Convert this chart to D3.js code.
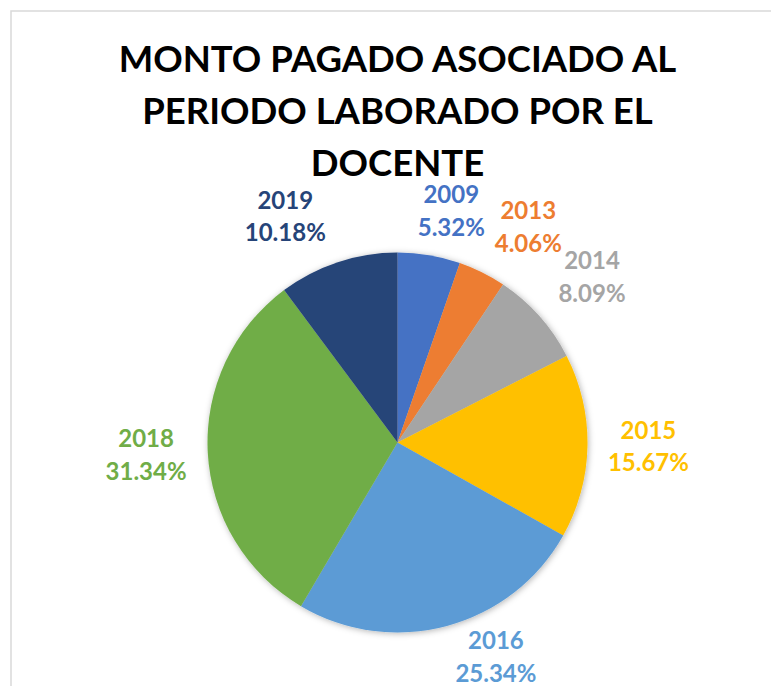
<!DOCTYPE html>
<html lang="es">
<head>
    <meta charset="UTF-8">
    <title>Monto pagado asociado al periodo laborado por el docente</title>
    <script src="https://cdnjs.cloudflare.com/ajax/libs/d3/7.8.5/d3.min.js"></script>
    <style type="text/css">
        body {
            margin: 0;
            background: #ffffff;
        }
        text {
            font-family: Lato, "Open Sans", sans-serif;
            font-weight: bold;
        }
    </style>
</head>
<body>
    <div id="chart"></div>
    <script type="text/javascript">

        // Data
        var years = ["2009", "2013", "2014", "2015", "2016", "2018", "2019"];
        var shares = [5.32, 4.06, 8.09, 15.67, 25.34, 31.34, 10.18];
        var colors = ["#4472C4", "#ED7D31", "#A5A5A5", "#FFC000", "#5B9BD5", "#70AD47", "#264478"];
        var titleLines = ["MONTO PAGADO ASOCIADO AL", "PERIODO LABORADO POR EL", "DOCENTE"];

        var data = years.map(function(y, i) {
            return {year: y, value: shares[i], color: colors[i]};
        });

        // Size variables
        var w = 771;
        var h = 686;
        var cx = 397.5;
        var cy = 442.5;
        var radius = 190;

        var svg = d3.select("#chart")
            .append("svg")
            .attr("width", w)
            .attr("height", h);

        // soft shadow under the pie
        var defs = svg.append("defs");
        var filter = defs.append("filter")
            .attr("id", "shadow")
            .attr("x", "-20%").attr("y", "-20%")
            .attr("width", "140%").attr("height", "140%");
        filter.append("feDropShadow")
            .attr("dx", 1)
            .attr("dy", 1)
            .attr("stdDeviation", 3)
            .attr("flood-color", "#000")
            .attr("flood-opacity", 0.3);

        // chart border
        svg.append("rect")
            .attr("x", 11)
            .attr("y", 11)
            .attr("width", w + 20)
            .attr("height", h + 20)
            .attr("fill", "#fff")
            .attr("stroke", "#d9d9d9")
            .attr("stroke-width", 1.5);

        // Title
        svg.append("g")
            .selectAll("text")
            .data(titleLines)
            .enter()
            .append("text")
            .attr("x", cx)
            .attr("y", function(d, i) { return 72 + i * 52; })
            .attr("text-anchor", "middle")
            .attr("font-size", "36.5px")
            .attr("fill", "#000")
            .text(function(d) { return d; });

        // Pie
        var pie = d3.pie()
            .sort(null)
            .value(function(d) { return d.value; });

        var arc = d3.arc()
            .innerRadius(0)
            .outerRadius(radius);

        var arcs = pie(data);

        var pieG = svg.append("g")
            .attr("transform", "translate(" + cx + "," + cy + ")")
            .attr("filter", "url(#shadow)");

        pieG.selectAll("path")
            .data(arcs)
            .enter()
            .append("path")
            .attr("d", arc)
            .attr("fill", function(d) { return d.data.color; });

        // Labels (outside end, Excel-like), small nudges where Excel shifts them
        var nudge = {
            "2009": [14, 5], "2013": [21, 6], "2014": [7, 2],
            "2015": [0, 0], "2016": [35, -20], "2018": [0, 0], "2019": [-35, 8]
        };
        var gap = 20;

        var labels = svg.append("g")
            .selectAll("text")
            .data(arcs)
            .enter()
            .append("text")
            .attr("text-anchor", "middle")
            .attr("font-size", "24px")
            .attr("fill", function(d) { return d.data.color; });

        labels.append("tspan")
            .attr("class", "yr")
            .text(function(d) { return d.data.year; });
        labels.append("tspan")
            .attr("class", "pct")
            .text(function(d) { return d.data.value.toFixed(2) + "%"; });

        labels.each(function(d) {
            var t = d3.select(this);
            var bw = Math.max(
                t.select(".yr").node().getComputedTextLength(),
                t.select(".pct").node().getComputedTextLength()
            );
            var bh = 48;
            var a = (d.startAngle + d.endAngle) / 2;
            var s = Math.sin(a), c = Math.cos(a);
            var ext = Math.abs(s) * bw / 2 + Math.abs(c) * bh / 2;
            var dist = radius + gap + ext;
            var n = nudge[d.data.year];
            var x = cx + dist * s + n[0];
            var y = cy - dist * c + n[1];
            t.select(".yr").attr("x", x).attr("y", y - 8.5);
            t.select(".pct").attr("x", x).attr("y", y + 24);
        });

    </script>
</body>
</html>
